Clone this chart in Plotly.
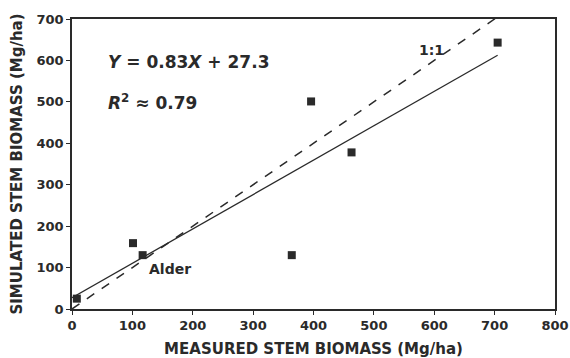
import plotly.graph_objects as go

measured = [8, 101, 117, 364, 396, 463, 705]
simulated = [25, 159, 130, 130, 501, 378, 643]
slope, intercept = 0.83, 27.3
fit_x = [0, 705]
one_x = [0, 712]
x_ticks = [0, 100, 200, 300, 400, 500, 600, 700, 800]
y_ticks = [0, 100, 200, 300, 400, 500, 600, 700]

ink = "#2a2a2a"
fnt = "DejaVu Sans, sans-serif"

fig = go.Figure()
fig.add_trace(go.Scatter(x=one_x, y=one_x, mode="lines",
                         line=dict(color=ink, width=1.5, dash="dash"), showlegend=False))
fig.add_trace(go.Scatter(x=fit_x, y=[slope * v + intercept for v in fit_x], mode="lines",
                         line=dict(color=ink, width=1.3), showlegend=False))
fig.add_trace(go.Scatter(x=measured, y=simulated, mode="markers",
                         marker=dict(symbol="square", size=8, color=ink), showlegend=False))

fig.add_annotation(x=57, y=597, text="<b><i>Y</i> = 0.83<i>X</i> + 27.3</b>", showarrow=False,
                   xanchor="left", yanchor="middle", font=dict(size=17, family=fnt, color=ink))
fig.add_annotation(x=57, y=500, text="<b><i>R</i><sup>2</sup> ≈ 0.79</b>", showarrow=False,
                   xanchor="left", yanchor="middle", font=dict(size=17, family=fnt, color=ink))
fig.add_annotation(x=596, y=626, text="<b>1:1</b>", showarrow=False,
                   xanchor="center", yanchor="middle", font=dict(size=14, family=fnt, color=ink))
fig.add_annotation(x=124, y=96, text="<b>Alder</b>", showarrow=False,
                   xanchor="left", yanchor="middle", font=dict(size=14, family=fnt, color=ink))

axis_common = dict(showgrid=False, zeroline=False, showline=True, linecolor=ink, linewidth=1.5,
                   mirror=True, ticks="outside", ticklen=4, tickwidth=1.2, tickcolor=ink,
                   automargin=False,
                   tickfont=dict(size=13, family=fnt, color=ink, weight="bold"))
fig.update_xaxes(range=[0, 800], tickvals=x_ticks,
                 title=dict(text="<b>MEASURED STEM BIOMASS (Mg/ha)</b>", standoff=12,
                            font=dict(size=15, family=fnt, color=ink)), **axis_common)
fig.update_yaxes(range=[0, 700], tickvals=y_ticks,
                 title=dict(text="<b>SIMULATED STEM BIOMASS (Mg/ha)</b>", standoff=10,
                            font=dict(size=15, family=fnt, color=ink)), **axis_common)

fig.update_layout(width=570, height=358, margin=dict(l=72, r=15, t=19, b=49),
                  plot_bgcolor="white", paper_bgcolor="white")
fig.write_html("out.html", config={"displayModeBar": False},
               post_script="document.body.style.margin='0';document.body.style.overflow='hidden';")
